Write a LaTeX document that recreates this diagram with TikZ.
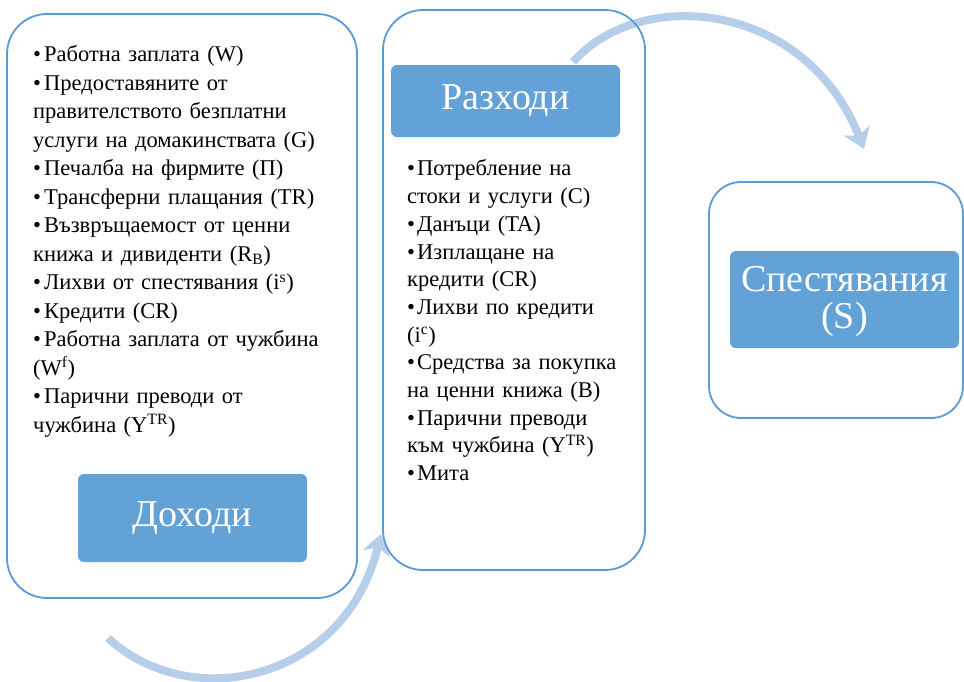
\documentclass[tikz,border=0pt]{standalone}
\usepackage{fontspec}
\setmainfont{Liberation Serif}
\usetikzlibrary{arrows.meta}
\definecolor{boxblue}{RGB}{91,155,213}
\definecolor{titleblue}{RGB}{99,162,214}
\definecolor{arrowblue}{RGB}{182,206,233}
\newlength\bulletind
\newcommand{\bitem}[1]{\par\noindent\hangindent=\bulletind\hangafter=1 \makebox[\bulletind][l]{•}#1\par}
\tikzset{
  outerbox/.style={draw=boxblue, line width=1.8pt, rounded corners=40pt},
  titlebox/.style={fill=titleblue, rounded corners=6pt},
  titletext/.style={text=white, font=\fontsize{38}{37}\selectfont, align=center, inner sep=0pt},
  listtext/.style={anchor=north west, inner sep=0pt, align=left},
  flow/.style={draw=arrowblue, line width=8pt, -{Stealth[length=20pt,width=28pt,inset=6pt]}}
}
\begin{document}
\begin{tikzpicture}[x=1pt,y=-1pt]
\useasboundingbox (0,0) rectangle (964,681);
\fill[white] (0,0) rectangle (964,681);
% arrows (behind boxes)
\coordinate (a1s) at (108,638);
\coordinate (a1e) at (381,534);
\coordinate (a2s) at (573,62);
\coordinate (a2e) at (864,149);
\draw[flow] (a1s) .. controls (190,714) and (345,682) .. (a1e);
\draw[flow] (a2s) .. controls (640,-14) and (805,0) .. (a2e);
% outer boxes
\draw[outerbox] (7,14) rectangle (357,598);
\draw[outerbox] (383,10) rectangle (645,570);
\draw[outerbox, rounded corners=32pt] (709,182) rectangle (963,418);
% title boxes
\fill[titlebox] (78,474) rectangle (307,562);
\node[titletext] (inc) at (192.5,518) {Доходи};
\fill[titlebox] (391,65) rectangle (620,137);
\node[titletext] (exp) at (505.5,101) {Разходи};
\fill[titlebox] (730,251) rectangle (959,348);
\node[titletext] (sav) at (844.5,301) {Спестявания\\(S)};
% lists
\node[listtext, text width=320pt, font=\fontsize{22.5}{28.5}\selectfont] (inclist) at (33,33) {\setlength\bulletind{11pt}%
\bitem{Работна заплата (W)}
\bitem{Предоставяните от\\правителството безплатни\\услуги на домакинствата (G)}
\bitem{Печалба на фирмите (П)}
\bitem{Трансферни плащания (TR)}
\bitem{Възвръщаемост от ценни\\книжа и дивиденти (R\textsubscript{B})}
\bitem{Лихви от спестявания (i\textsuperscript{s})}
\bitem{Кредити (CR)}
\bitem{Работна заплата от чужбина\\(W\textsuperscript{f})}
\bitem{Парични преводи от\\чужбина (Y\textsuperscript{TR})}};
\node[listtext, text width=232pt, font=\fontsize{22.5}{27.7}\selectfont] (explist) at (407,148) {\setlength\bulletind{10pt}%
\bitem{Потребление на\\стоки и услуги (C)}
\bitem{Данъци (TA)}
\bitem{Изплащане на\\кредити (CR)}
\bitem{Лихви по кредити\\(i\textsuperscript{c})}
\bitem{Средства за покупка\\на ценни книжа (B)}
\bitem{Парични преводи\\към чужбина (Y\textsuperscript{TR})}
\bitem{Мита}};
\end{tikzpicture}
\end{document}
